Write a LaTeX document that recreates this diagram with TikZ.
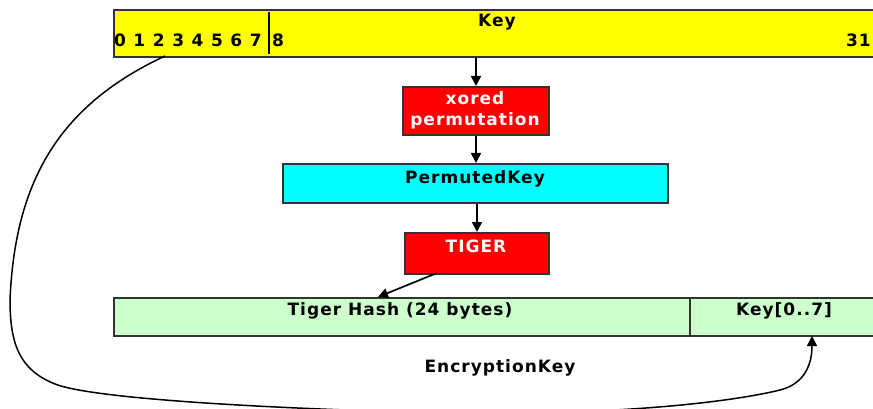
\documentclass[tikz,border=0pt]{standalone}
\usepackage{fontspec}
\setmainfont{DejaVu Sans}[LetterSpace=6]
\usetikzlibrary{arrows.meta}
\definecolor{boxedge}{HTML}{333333}
\definecolor{keyyellow}{HTML}{FFFF00}
\definecolor{opred}{HTML}{FF0000}
\definecolor{pkcyan}{HTML}{00FFFF}
\definecolor{hashgreen}{HTML}{CCFFCC}
\begin{document}
\begin{tikzpicture}[x=1pt,y=-1pt,
  box/.style={draw=boxedge, line width=2pt, inner sep=0pt, anchor=north west},
  lbl/.style={font=\fontsize{17}{20}\selectfont\bfseries, anchor=base, inner sep=0pt},
  conn/.style={line width=1.7pt, -{Triangle[length=10pt,width=10pt]}}]
\useasboundingbox (0,0) rectangle (873,409);
% boxes
\node[box, fill=keyyellow, minimum width=772pt, minimum height=47pt] (key) at (113,9) {};
\node[box, fill=opred, minimum width=146pt, minimum height=48pt] (xor) at (402,86) {};
\node[box, fill=pkcyan, minimum width=385pt, minimum height=39pt] (pk) at (282,163) {};
\node[box, fill=opred, minimum width=144pt, minimum height=41pt] (tig) at (404,232) {};
\node[box, fill=hashgreen, minimum width=576pt, minimum height=38pt] (hash) at (113,297) {};
\node[box, fill=hashgreen, minimum width=196pt, minimum height=38pt] (kz) at (689,297) {};
% divider in key box
\coordinate (dvt) at (269,12);
\coordinate (dvb) at (269,54);
\draw[line width=1.4pt] (dvt) -- (dvb);
% labels
\node[lbl] (keyl) at (497,27) {Key};
\foreach \d in {0,...,7} {
  \node[lbl] (d\d) at (120+19.4*\d,47) {\d};
}
\node[lbl] (d8) at (278,47) {8};
\node[lbl, anchor=base east] (d31) at (871,47) {31};
\node[lbl, text=white] (xl1) at (475,105) {xored};
\node[lbl, text=white] (xl2) at (475,126) {permutation};
\node[lbl] (pkl) at (475,183) {PermutedKey};
\node[lbl, text=white] (tl) at (476,252) {TIGER};
\node[lbl] (hl) at (400,315) {Tiger Hash (24 bytes)};
\node[lbl] (kzl) at (784,315) {Key[0..7]};
\node[lbl] (ekl) at (500,372) {EncryptionKey};
% connectors
\draw[conn] (key.south -| xor.north) -- (xor.north);
\draw[conn] (xor.south) -- (pk.north -| xor.south);
\draw[conn] (pk.south -| tig.north) -- (tig.north);
\coordinate (tout) at (437,273);
\coordinate (hin) at (378,297);
\draw[conn] (tout) -- (hin);
\coordinate (cs) at (165,56);
\coordinate (ce) at (812,336);
\draw[conn, line width=1.5pt] (cs) .. controls (60,105) and (15,180) .. (10,300)
  .. controls (10,345) and (20,370) .. (55,384)
  .. controls (90,398) and (250,408) .. (440,413)
  .. controls (630,416) and (740,400) .. (780,390)
  .. controls (800,385) and (812,370) .. (ce);
\end{tikzpicture}
\end{document}
